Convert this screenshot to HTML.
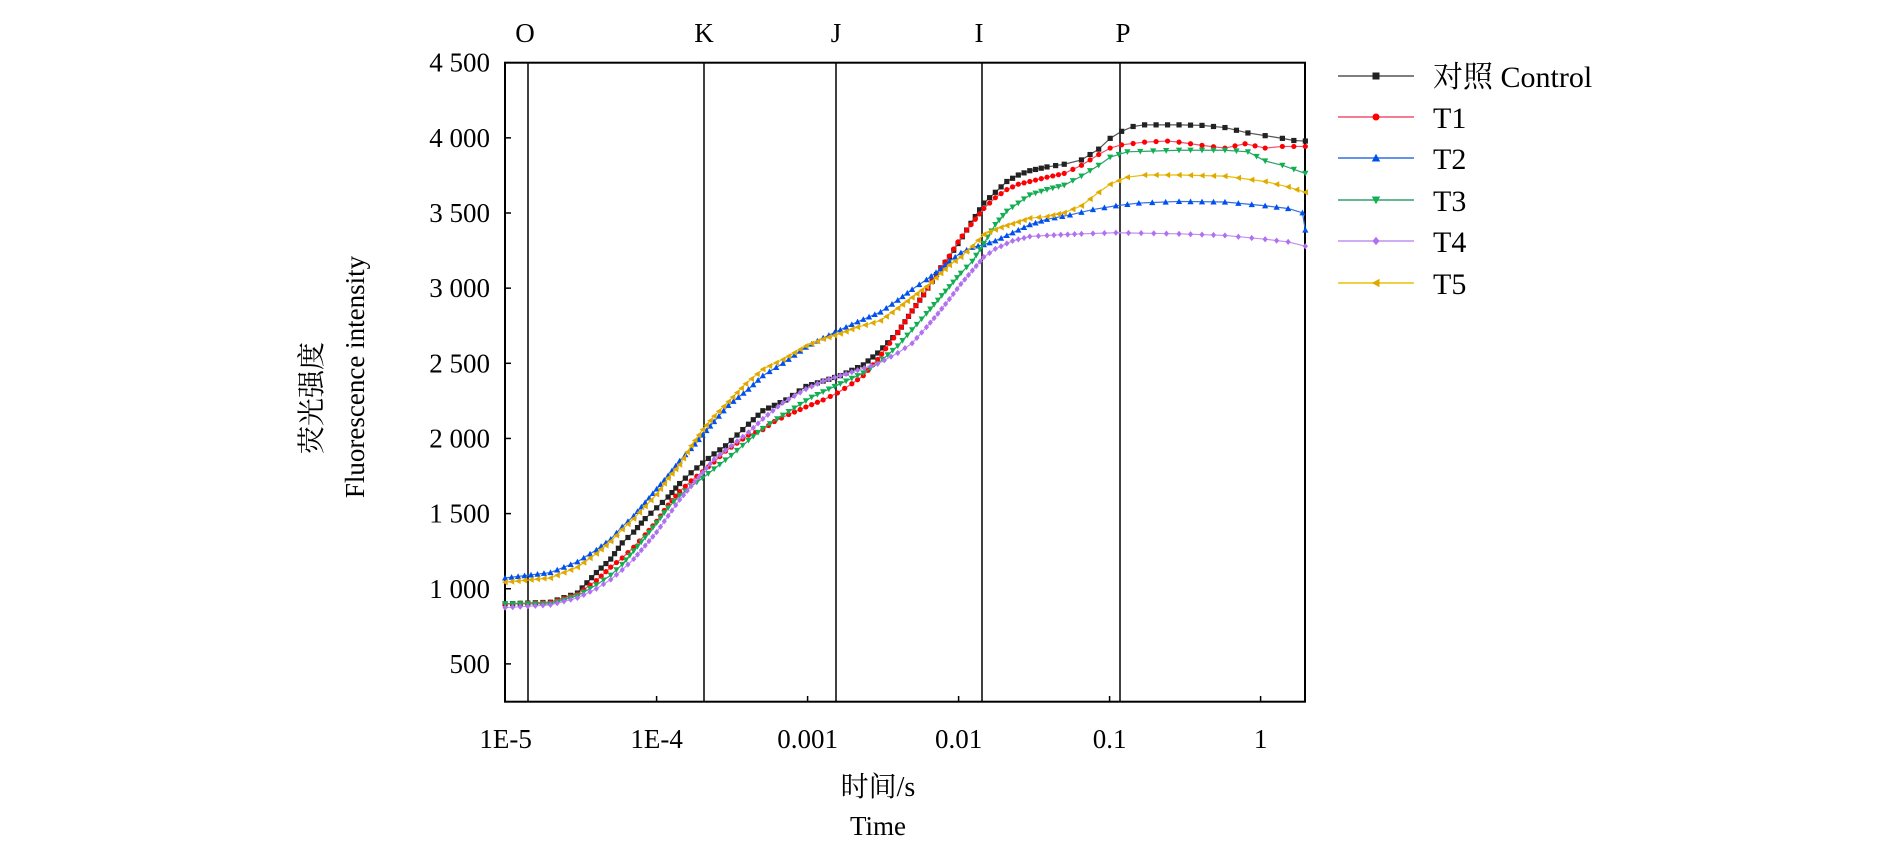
<!DOCTYPE html>
<html><head><meta charset="utf-8"><style>
body{margin:0;background:#fff;width:1890px;height:850px;overflow:hidden}
svg{position:absolute;left:0;top:0}
text{font-family:"Liberation Serif","Noto Serif CJK SC",serif;fill:#000}
</style></head><body>
<svg id="s" width="1890" height="850" xmlns="http://www.w3.org/2000/svg">
<rect x="505" y="62.7" width="800" height="639" fill="none" stroke="#000" stroke-width="2"/>
<g stroke="#000" stroke-width="1.5">
<line x1="528" y1="63" x2="528" y2="702"/><line x1="704" y1="63" x2="704" y2="702"/>
<line x1="836" y1="63" x2="836" y2="702"/><line x1="982" y1="63" x2="982" y2="702"/>
<line x1="1120" y1="63" x2="1120" y2="702"/>
</g>
<g font-size="27" text-anchor="middle">
<text x="525" y="42">O</text><text x="704" y="42">K</text><text x="836" y="42">J</text><text x="979" y="42">I</text><text x="1123" y="42">P</text>
</g>
<g id="yt" font-size="27" text-anchor="end"></g>
<g id="xt" font-size="27" text-anchor="middle"></g>
<text x="878" y="796" font-size="28" text-anchor="middle">时间/s</text>
<text x="878" y="835" font-size="27" text-anchor="middle">Time</text>
<text transform="translate(321,398) rotate(-90)" font-size="28" text-anchor="middle">荧光强度</text>
<text transform="translate(364,377) rotate(-90)" font-size="27" text-anchor="middle">Fluorescence intensity</text>
<g id="data"></g>
<g id="leg"></g>
</svg>
<script>
var NS="http://www.w3.org/2000/svg";
function el(t,a,p){var e=document.createElementNS(NS,t);for(var k in a)e.setAttribute(k,a[k]);p.appendChild(e);return e;}
var s=document.getElementById('s');
var yt=document.getElementById('yt'),xt=document.getElementById('xt');
var yl=["4 500","4 000","3 500","3 000","2 500","2 000","1 500","1 000","500"];
for(var i=0;i<9;i++){var y=62.7+i*75.15;el('line',{x1:505,y1:y,x2:511,y2:y,stroke:'#000','stroke-width':1.5},s);var t=el('text',{x:490,y:y+9},yt);t.textContent=yl[i];}
var xl=["1E-5","1E-4","0.001","0.01","0.1","1"];
for(var i=0;i<6;i++){var x=505.6+i*151;if(i>0)el('line',{x1:x,y1:702,x2:x,y2:696,stroke:'#000','stroke-width':1.5},s);var t=el('text',{x:x,y:748},xt);t.textContent=xl[i];}
function P(a){var r=[];for(var i=0;i<a.length;i+=2)r.push([a[i]/1.742+450,62.7+(a[i+1]/1.742-63)*0.9396]);return r;}
var S=[
{lc:'#555',mc:'#222',m:'sq',d:[96,1113,175,1110,222,1093,255,1055,280,1030,300,1000,320,980,340,955,360,935,380,915,400,890,420,870,440,852,460,835,480,820,500,800,520,780,545,755,565,745,585,735,620,710,650,700,680,690,700,680,720,670,745,648,780,610,805,570,825,540,840,515,855,490,870,470,885,445,900,420,915,395,930,370,950,350,970,330,990,318,1010,310,1040,303,1070,298,1100,290,1130,270,1150,250,1170,237,1190,228,1210,225,1270,225,1310,226,1350,230,1390,240,1420,245,1450,250,1470,254,1490,255]},
{lc:'#f05070',mc:'#f00',m:'ci',d:[96,1113,175,1110,222,1095,255,1070,280,1045,300,1028,320,1008,340,985,360,960,380,930,400,905,420,885,440,868,460,850,480,830,500,815,520,800,545,790,565,775,590,762,620,748,650,735,675,722,700,705,720,690,745,660,780,610,805,570,825,540,840,515,855,490,870,468,885,442,900,420,915,400,930,380,950,360,970,345,990,335,1010,330,1040,322,1070,315,1100,300,1130,280,1150,268,1170,262,1210,257,1250,255,1270,257,1310,263,1350,268,1385,260,1420,268,1450,265,1490,265]},
{lc:'#3070e0',mc:'#0050f0',m:'up',d:[96,1065,175,1055,222,1035,255,1013,280,993,300,970,320,950,340,925,360,900,380,875,400,848,420,825,440,800,460,775,485,745,520,715,545,690,580,667,620,637,650,620,680,605,710,590,750,572,780,550,805,530,830,512,855,492,870,478,890,462,910,452,930,447,950,440,980,425,1010,410,1040,400,1080,392,1120,382,1160,375,1200,370,1270,367,1350,368,1420,375,1460,380,1485,388,1490,420]},
{lc:'#30a070',mc:'#10b050',m:'dn',d:[96,1113,175,1113,222,1098,255,1078,280,1060,300,1040,320,1015,340,990,360,963,380,935,400,912,420,895,440,880,460,863,490,838,520,810,545,788,570,770,600,750,630,730,660,715,690,700,720,685,745,668,780,635,805,605,830,575,850,550,870,525,890,500,910,478,930,445,950,410,970,385,990,370,1010,355,1040,345,1070,337,1100,320,1130,300,1150,285,1180,275,1270,272,1350,272,1390,275,1420,292,1450,300,1490,315]},
{lc:'#c090f0',mc:'#b070f0',m:'di',d:[96,1120,175,1115,222,1102,255,1085,280,1068,300,1050,320,1030,340,1005,360,980,380,950,400,920,420,895,440,870,460,845,490,820,520,795,545,770,580,740,620,715,650,700,680,690,710,680,745,668,780,648,805,630,830,600,850,575,870,548,890,520,910,495,930,470,950,455,980,440,1010,432,1040,430,1100,427,1160,425,1270,427,1350,430,1420,437,1460,442,1490,450]},
{lc:'#e8c000',mc:'#e0a800',m:'lt',d:[96,1073,175,1065,222,1045,255,1020,280,997,300,975,320,955,340,932,360,910,380,880,400,855,420,820,440,790,460,765,485,738,515,705,545,678,580,660,620,635,650,622,680,612,710,600,750,588,780,565,805,545,830,525,855,500,870,485,890,470,910,450,930,428,960,415,990,405,1010,398,1040,395,1070,388,1100,375,1130,350,1150,335,1180,322,1210,318,1270,318,1350,320,1420,330,1460,340,1490,350]}
];
var g=document.getElementById('data');
function mk(type,x,y,c,p,r){r=r||2.6;
 if(type=='sq')el('rect',{x:x-r,y:y-r,width:2*r,height:2*r,fill:c},p);
 else if(type=='ci')el('circle',{cx:x,cy:y,r:r,fill:c},p);
 else if(type=='up')el('polygon',{points:(x)+','+(y-r*1.2)+' '+(x-r*1.2)+','+(y+r)+' '+(x+r*1.2)+','+(y+r),fill:c},p);
 else if(type=='dn')el('polygon',{points:(x)+','+(y+r*1.2)+' '+(x-r*1.2)+','+(y-r)+' '+(x+r*1.2)+','+(y-r),fill:c},p);
 else if(type=='di')el('polygon',{points:x+','+(y-r*1.2)+' '+(x+r)+','+y+' '+x+','+(y+r*1.2)+' '+(x-r)+','+y,fill:c},p);
 else el('polygon',{points:(x-r*1.2)+','+y+' '+(x+r)+','+(y-r*1.2)+' '+(x+r)+','+(y+r*1.2),fill:c},p);
}
S.forEach(function(se){var p=P(se.d);
 el('polyline',{points:p.map(function(q){return q.join(',')}).join(' '),fill:'none',stroke:se.lc,'stroke-width':1.2},g);
 for(var i=0;i<p.length-1;i++){var a=p[i],b=p[i+1];var dx=b[0]-a[0],dy=b[1]-a[1];var L=Math.sqrt(dx*dx+dy*dy);
  var step=(a[0]>1040/1.742+450)?12:7;var n=Math.max(1,Math.round(L/step));
  for(var k=0;k<n;k++)mk(se.m,a[0]+dx*k/n,a[1]+dy*k/n,se.mc,g);}
 mk(se.m,p[p.length-1][0],p[p.length-1][1],se.mc,g);
});
var lg=document.getElementById('leg');var names=["对照 Control","T1","T2","T3","T4","T5"];
var ly=[76,117,158,200,241,283];
S.forEach(function(se,i){el('line',{x1:1338,y1:ly[i],x2:1414,y2:ly[i],stroke:se.lc,'stroke-width':1.5},lg);
 mk(se.m,1376,ly[i],se.mc,lg,3.5);var t=el('text',{x:1433,y:ly[i]+11,'font-size':30},lg);t.textContent=names[i];});
</script>
</body></html>
